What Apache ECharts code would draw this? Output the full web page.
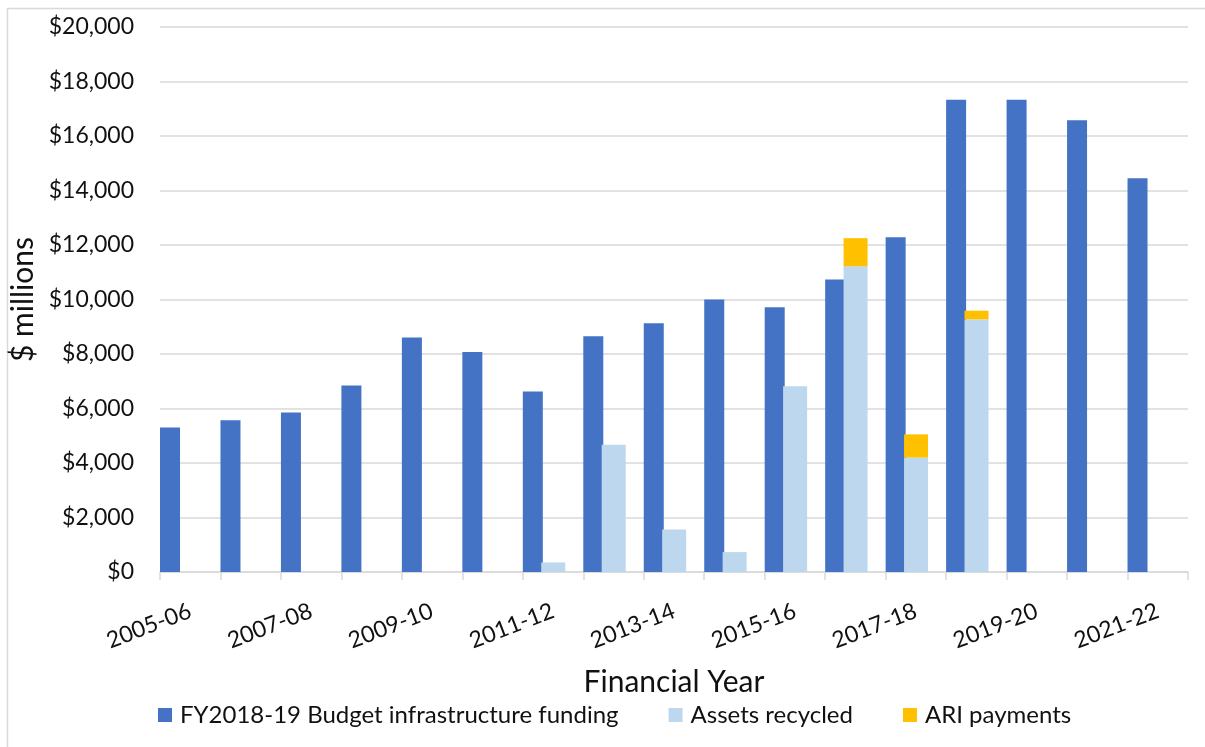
<!DOCTYPE html>
<html>
<head>
<meta charset="utf-8">
<script src="https://cdn.jsdelivr.net/npm/echarts@6/dist/echarts.min.js"></script>
<style>
  html, body { margin: 0; padding: 0; background: #fff; }
  #chart { width: 1205px; height: 747px; }
</style>
</head>
<body>
<div id="chart"></div>
<script>
// Financial years on the category axis
const years = ['2005-06', '2006-07', '2007-08', '2008-09', '2009-10', '2010-11', '2011-12',
  '2012-13', '2013-14', '2014-15', '2015-16', '2016-17', '2017-18', '2018-19',
  '2019-20', '2020-21', '2021-22'];

// $ millions
const infrastructureFunding = [5300, 5570, 5850, 6840, 8610, 8070, 6620, 8650, 9130,
  10000, 9720, 10730, 12280, 17330, 17330, 16580, 14450];
const assetsRecycled = [null, null, null, null, null, null, 350, 4670, 1560,
  730, 6820, 11220, 4200, 9270, null, null, null];
const ariPayments = [null, null, null, null, null, null, null, null, null,
  null, null, 1030, 850, 320, null, null, null];

const yTicks = { min: 0, max: 20000, step: 2000 };

const FONT = 'Lato';
const TEXT = '#111';

const chart = echarts.init(document.getElementById('chart'), null, { renderer: 'canvas' });

chart.setOption({
  animation: false,
  backgroundColor: '#fff',
  textStyle: { fontFamily: FONT, color: TEXT },
  graphic: [{
    type: 'rect',
    shape: { x: 7.5, y: 8.5, width: 1220, height: 760 },
    style: { fill: 'none', stroke: '#d9d9d9', lineWidth: 1.5 },
    silent: true, z: -1
  }],
  grid: { left: 160, right: 17, top: 27, bottom: 175, containLabel: false, outerBoundsMode: 'none' },
  legend: {
    data: ['FY2018-19 Budget infrastructure funding', 'Assets recycled', 'ARI payments'],
    left: 153, top: 698,
    icon: 'rect', itemWidth: 14, itemHeight: 14, itemGap: 50,
    textStyle: { fontFamily: FONT, fontSize: 24, color: TEXT, padding: [0, 0, 0, 3] }
  },
  xAxis: {
    type: 'category',
    data: years,
    name: 'Financial Year',
    nameLocation: 'middle',
    nameGap: 95,
    nameTextStyle: { fontFamily: FONT, fontSize: 30, color: TEXT },
    axisLine: { lineStyle: { color: '#d9d9d9', width: 1.5 } },
    axisTick: { show: true, interval: 0, length: 8, lineStyle: { color: '#d9d9d9', width: 1.5 } },
    axisLabel: { interval: 1, rotate: 21, margin: 38, fontFamily: FONT, fontSize: 23, color: TEXT }
  },
  yAxis: {
    type: 'value',
    min: yTicks.min, max: yTicks.max, interval: yTicks.step,
    name: '$ millions',
    nameLocation: 'middle',
    nameGap: 115,
    nameTextStyle: { fontFamily: FONT, fontSize: 30, color: TEXT },
    axisLine: { show: false },
    axisTick: { show: false },
    splitLine: { lineStyle: { color: '#d9d9d9', width: 1.5 } },
    axisLabel: {
      margin: 26, fontFamily: FONT, fontSize: 23, color: TEXT,
      formatter: v => '$' + v.toLocaleString('en-US')
    }
  },
  series: [
    {
      name: 'FY2018-19 Budget infrastructure funding',
      type: 'bar',
      data: infrastructureFunding,
      barWidth: 20,
      barGap: '-8%',
      itemStyle: { color: '#4472C4' }
    },
    {
      name: 'Assets recycled',
      type: 'bar',
      stack: 'recycling',
      data: assetsRecycled,
      barWidth: 24,
      itemStyle: { color: '#BDD7EE' }
    },
    {
      name: 'ARI payments',
      type: 'bar',
      stack: 'recycling',
      data: ariPayments,
      barWidth: 24,
      itemStyle: { color: '#FFC000' }
    },
    {
      // empty slot that keeps the pair of bars on the left of each year
      name: 'gap',
      type: 'bar',
      data: [],
      barWidth: 20,
      barGap: '-8%',
      silent: true
    }
  ]
});
</script>
</body>
</html>
